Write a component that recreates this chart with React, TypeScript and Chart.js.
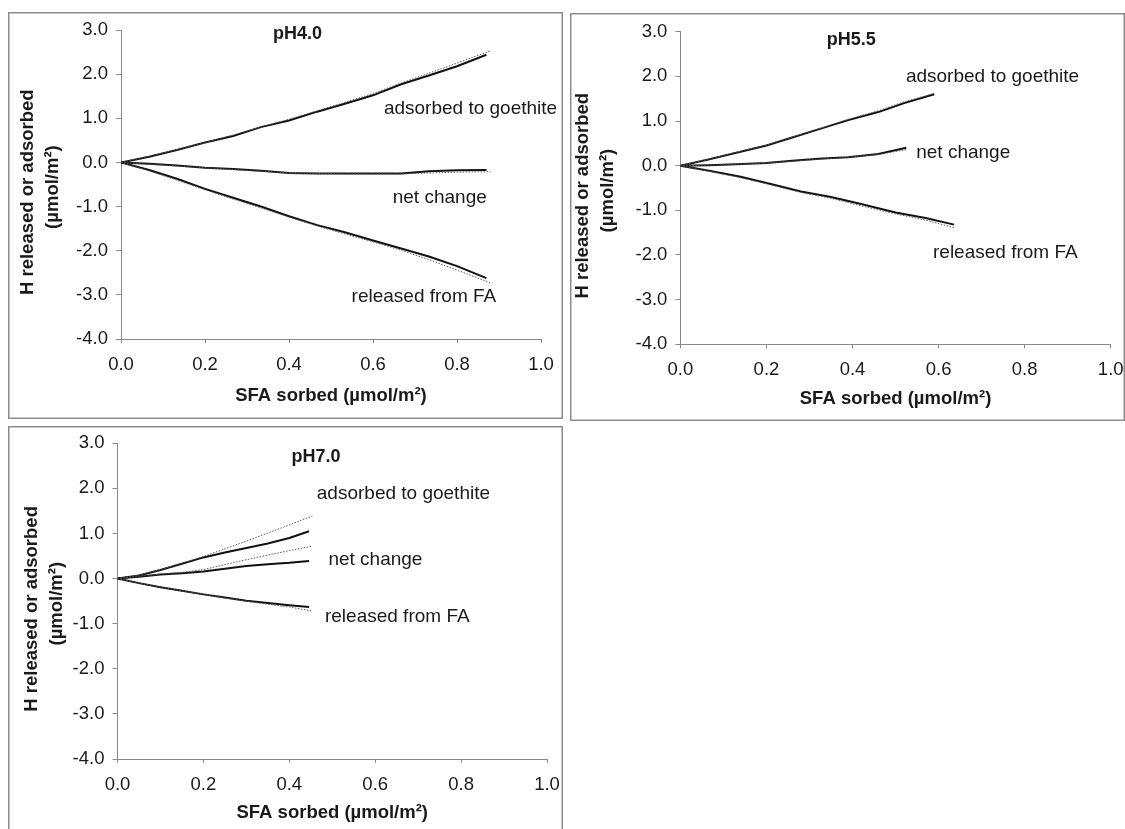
import React, { useEffect, useRef } from "react";
import { Chart, registerables } from "chart.js";

Chart.register(...registerables);

// ---------- data ----------
// pH 4.0
const X_PH40 = [0, 0.067, 0.133, 0.2, 0.267, 0.333, 0.4, 0.467, 0.533, 0.6, 0.667, 0.733, 0.8, 0.87];
const X_FIT_PH40 = [0, 0.067, 0.133, 0.2, 0.267, 0.333, 0.4, 0.467, 0.533, 0.6, 0.667, 0.733, 0.8, 0.88];
const ADS_PH40 = [0, 0.13, 0.28, 0.45, 0.6, 0.8, 0.95, 1.15, 1.33, 1.52, 1.77, 1.97, 2.18, 2.44];
const ADS_FIT_PH40 = [0, 0.14, 0.29, 0.45, 0.62, 0.8, 0.98, 1.17, 1.36, 1.56, 1.8, 2.02, 2.25, 2.53];
const NET_PH40 = [0, -0.03, -0.07, -0.12, -0.15, -0.19, -0.24, -0.25, -0.25, -0.25, -0.25, -0.2, -0.18, -0.17];
const NET_FIT_PH40 = [0, -0.04, -0.08, -0.12, -0.16, -0.2, -0.24, -0.25, -0.26, -0.26, -0.26, -0.24, -0.22, -0.21];
const REL_PH40 = [0, -0.17, -0.37, -0.6, -0.8, -1.0, -1.22, -1.42, -1.58, -1.77, -1.95, -2.13, -2.35, -2.62];
const REL_FIT_PH40 = [0, -0.19, -0.4, -0.62, -0.83, -1.03, -1.24, -1.44, -1.62, -1.8, -1.99, -2.2, -2.44, -2.73];

// pH 5.5
const X_ADS_PH55 = [0, 0.065, 0.13, 0.2, 0.26, 0.33, 0.39, 0.46, 0.52, 0.59];
const ADS_PH55 = [0, 0.14, 0.29, 0.45, 0.63, 0.84, 1.02, 1.2, 1.4, 1.6];
const ADS_FIT_PH55 = [0, 0.14, 0.3, 0.46, 0.64, 0.85, 1.04, 1.23, 1.43, 1.62];
const X_NET_PH55 = [0, 0.065, 0.13, 0.2, 0.26, 0.33, 0.39, 0.46, 0.525];
const NET_PH55 = [0, 0.01, 0.03, 0.06, 0.11, 0.16, 0.19, 0.26, 0.4];
const NET_FIT_PH55 = [0, 0.01, 0.03, 0.06, 0.1, 0.15, 0.19, 0.25, 0.36];
const X_REL_PH55 = [0, 0.07, 0.14, 0.21, 0.28, 0.35, 0.42, 0.5, 0.57, 0.636];
const REL_PH55 = [0, -0.12, -0.25, -0.41, -0.58, -0.7, -0.86, -1.05, -1.17, -1.32];
const REL_FIT_PH55 = [0, -0.13, -0.27, -0.43, -0.6, -0.73, -0.9, -1.08, -1.22, -1.39];

// pH 7.0
const X_PH70 = [0, 0.05, 0.1, 0.15, 0.2, 0.25, 0.3, 0.35, 0.4, 0.446];
const X_FIT_PH70 = [0, 0.05, 0.1, 0.15, 0.2, 0.25, 0.3, 0.35, 0.4, 0.454];
const ADS_PH70 = [0, 0.07, 0.19, 0.33, 0.47, 0.58, 0.68, 0.78, 0.9, 1.05];
const ADS_FIT_PH70 = [0, 0.08, 0.2, 0.34, 0.49, 0.66, 0.83, 1.01, 1.19, 1.39];
const NET_PH70 = [0, 0.04, 0.09, 0.12, 0.16, 0.22, 0.28, 0.32, 0.35, 0.39];
const NET_FIT_PH70 = [0, 0.05, 0.1, 0.14, 0.2, 0.31, 0.42, 0.52, 0.62, 0.72];
const REL_PH70 = [0, -0.1, -0.19, -0.27, -0.35, -0.42, -0.49, -0.54, -0.59, -0.63];
const REL_FIT_PH70 = [0, -0.1, -0.19, -0.27, -0.35, -0.43, -0.5, -0.57, -0.63, -0.72];

// curve labels: text, x (left edge), y (centre)
const LABEL_TEXTS = ["adsorbed to goethite", "net change", "released from FA"];
const LABEL_X_PH40 = [0.626, 0.647, 0.549];
const LABEL_Y_PH40 = [1.22, -0.81, -3.05];
const LABEL_X_PH55 = [0.524, 0.548, 0.587];
const LABEL_Y_PH55 = [2.0, 0.29, -1.95];
const LABEL_X_PH70 = [0.464, 0.491, 0.483];
const LABEL_Y_PH70 = [1.89, 0.41, -0.84];

const PANEL_TITLES = ["pH4.0", "pH5.5", "pH7.0"];
const TITLE_X = [0.362, 0.34, 0.405];
const TITLE_Y = [2.91, 2.81, 2.7];

const X_AXIS_TITLE = "SFA sorbed (µmol/m²)";
const Y_AXIS_TITLE = ["H released or adsorbed   ", "(µmol/m²) "];
const X_MIN = 0, X_MAX = 1, X_STEP = 0.2;
const Y_MIN = -4, Y_MAX = 3, Y_STEP = 1;

// ---------- layout ----------
type Series = { x: number[]; y: number[]; fit: boolean };
type PanelDef = {
  idx: number;
  left: number; top: number; width: number; height: number;
  areaLeft: number; padRight: number; padTop: number; xAxisHeight: number;
  yTitlePad: number; xTitlePad: number; xTickPad: number;
  series: Series[];
  labelX: number[]; labelY: number[];
};

const PANELS: PanelDef[] = [
  {
    idx: 0, left: 8, top: 12, width: 555, height: 407,
    areaLeft: 113, padRight: 22, padTop: 18, xAxisHeight: 80,
    yTitlePad: 8, xTitlePad: 12, xTickPad: 11,
    series: [
      { x: X_FIT_PH40, y: ADS_FIT_PH40, fit: true },
      { x: X_FIT_PH40, y: NET_FIT_PH40, fit: true },
      { x: X_FIT_PH40, y: REL_FIT_PH40, fit: true },
      { x: X_PH40, y: ADS_PH40, fit: false },
      { x: X_PH40, y: NET_PH40, fit: false },
      { x: X_PH40, y: REL_PH40, fit: false },
    ],
    labelX: LABEL_X_PH40, labelY: LABEL_Y_PH40,
  },
  {
    idx: 1, left: 570, top: 13, width: 555, height: 408,
    areaLeft: 110.4, padRight: 14.3, padTop: 18.7, xAxisHeight: 76.7,
    yTitlePad: 1, xTitlePad: 11, xTickPad: 11,
    series: [
      { x: X_ADS_PH55, y: ADS_FIT_PH55, fit: true },
      { x: X_NET_PH55, y: NET_FIT_PH55, fit: true },
      { x: X_REL_PH55, y: REL_FIT_PH55, fit: true },
      { x: X_ADS_PH55, y: ADS_PH55, fit: false },
      { x: X_NET_PH55, y: NET_PH55, fit: false },
      { x: X_REL_PH55, y: REL_PH55, fit: false },
    ],
    labelX: LABEL_X_PH55, labelY: LABEL_Y_PH55,
  },
  {
    idx: 2, left: 8, top: 426, width: 555, height: 408,
    areaLeft: 109.5, padRight: 16, padTop: 17.3, xAxisHeight: 75,
    yTitlePad: 12, xTitlePad: 10, xTickPad: 11,
    series: [
      { x: X_FIT_PH70, y: ADS_FIT_PH70, fit: true },
      { x: X_FIT_PH70, y: NET_FIT_PH70, fit: true },
      { x: X_FIT_PH70, y: REL_FIT_PH70, fit: true },
      { x: X_PH70, y: ADS_PH70, fit: false },
      { x: X_PH70, y: NET_PH70, fit: false },
      { x: X_PH70, y: REL_PH70, fit: false },
    ],
    labelX: LABEL_X_PH70, labelY: LABEL_Y_PH70,
  },
];

const FONT = "'Liberation Sans', Arial, Helvetica, sans-serif";
const TEXT_COLOR = "#1a1a1a";
const AXIS_COLOR = "#8a8a8a";

function PanelChart({ p }: { p: PanelDef }) {
  const ref = useRef<HTMLCanvasElement | null>(null);

  useEffect(() => {
    if (!ref.current) return;
    const annotations = {
      id: "annotations",
      afterDatasetsDraw(chart: any) {
        const { ctx, scales } = chart;
        const xs = scales.x, ys = scales.y;
        ctx.save();
        ctx.fillStyle = TEXT_COLOR;
        ctx.textBaseline = "middle";
        ctx.textAlign = "left";
        ctx.font = `19px ${FONT}`;
        LABEL_TEXTS.forEach((t, i) => {
          ctx.fillText(t, xs.getPixelForValue(p.labelX[i]), ys.getPixelForValue(p.labelY[i]));
        });
        ctx.font = `bold 18px ${FONT}`;
        ctx.fillText(PANEL_TITLES[p.idx], xs.getPixelForValue(TITLE_X[p.idx]), ys.getPixelForValue(TITLE_Y[p.idx]));
        ctx.restore();
      },
      afterDraw(chart: any) {
        const { ctx, width, height } = chart;
        ctx.save();
        ctx.strokeStyle = "#8c8c8c";
        ctx.lineWidth = 1.5;
        ctx.strokeRect(0.75, 0.75, width - 1.5, height - 1.5);
        ctx.restore();
      },
    };

    const datasets = p.series.map((s) => ({
      data: s.x.map((x, i) => ({ x, y: s.y[i] })),
      borderColor: s.fit ? "#5a5a5a" : "#111111",
      borderWidth: s.fit ? 1 : 2,
      borderDash: s.fit ? [1.5, 1.5] : [],
      pointRadius: 0,
      tension: 0,
      fill: false,
    }));

    const chart = new Chart(ref.current, {
      type: "line",
      data: { datasets },
      plugins: [annotations],
      options: {
        animation: false,
        responsive: false,
        devicePixelRatio: 1,
        layout: { padding: { left: 0, top: p.padTop, right: p.padRight, bottom: 0 } },
        plugins: { legend: { display: false }, tooltip: { enabled: false }, title: { display: false } },
        scales: {
          x: {
            type: "linear",
            min: X_MIN,
            max: X_MAX,
            ticks: {
              stepSize: X_STEP,
              color: TEXT_COLOR,
              font: { family: FONT, size: 18.5 },
              padding: p.xTickPad,
              maxRotation: 0,
              callback: (v: any) => Number(v).toFixed(1),
            },
            grid: { drawOnChartArea: false, drawTicks: true, tickLength: 4, color: AXIS_COLOR, lineWidth: 1 },
            border: { display: true, color: AXIS_COLOR, width: 1 },
            title: {
              display: true,
              text: X_AXIS_TITLE,
              color: TEXT_COLOR,
              font: { family: FONT, size: 18.5, weight: "bold", lineHeight: 1.2 },
              padding: { top: 0, bottom: p.xTitlePad },
            },
            afterFit: (s: any) => {
              s.height = p.xAxisHeight;
              s.paddingLeft = 0;
              s.paddingRight = 0;
            },
          },
          y: {
            type: "linear",
            min: Y_MIN,
            max: Y_MAX,
            ticks: {
              stepSize: Y_STEP,
              color: TEXT_COLOR,
              font: { family: FONT, size: 18.5 },
              padding: 8,
              callback: (v: any) => Number(v).toFixed(1),
            },
            grid: { drawOnChartArea: false, drawTicks: true, tickLength: 5, color: AXIS_COLOR, lineWidth: 1 },
            border: { display: true, color: AXIS_COLOR, width: 1 },
            title: {
              display: true,
              text: Y_AXIS_TITLE,
              color: TEXT_COLOR,
              font: { family: FONT, size: 18.5, weight: "bold", lineHeight: 1.32 },
              padding: { top: p.yTitlePad, bottom: 0 },
            },
            afterFit: (s: any) => {
              s.width = p.areaLeft;
              s.paddingTop = 0;
              s.paddingBottom = 0;
            },
          },
        },
      } as any,
    });
    return () => chart.destroy();
  }, [p]);

  return (
    <div style={{ position: "absolute", left: p.left, top: p.top, width: p.width, height: p.height }}>
      <canvas ref={ref} width={p.width} height={p.height} style={{ display: "block", width: p.width, height: p.height }} />
    </div>
  );
}

export default function App() {
  return (
    <div
      style={{
        position: "absolute",
        left: 0,
        top: 0,
        width: 1125,
        height: 829,
        overflow: "hidden",
        background: "#ffffff",
      }}
    >
      {PANELS.map((p) => (
        <PanelChart key={p.idx} p={p} />
      ))}
    </div>
  );
}
